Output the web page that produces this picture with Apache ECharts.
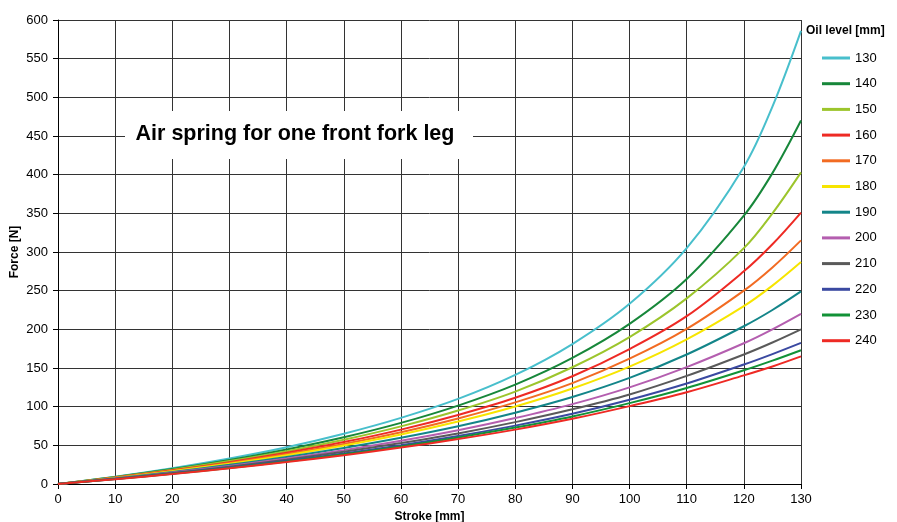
<!DOCTYPE html>
<html>
<head>
<meta charset="utf-8">
<script src="https://cdn.jsdelivr.net/npm/echarts@6/dist/echarts.min.js"></script>
<style>
html,body{margin:0;padding:0;background:#fff;}
#chart{width:897px;height:522px;}
</style>
</head>
<body>
<div id="chart"></div>
<script>
// Stroke positions [mm]
var stroke = [0, 10, 20, 30, 40, 50, 60, 70, 80, 90, 100, 110, 120, 125, 130];
// Oil levels [mm] (legend labels)
var oilLevels = ['130', '140', '150', '160', '170', '180', '190', '200', '210', '220', '230', '240'];
// Force [N] per oil level
var f130 = [0, 9.5, 20.5, 33, 47.5, 65, 85.5, 110, 141, 181, 233, 305, 410, 488, 586];
var f140 = [0, 9.1, 19.3, 31, 44.6, 60.4, 79, 101.4, 128.5, 163, 207, 265, 347, 402, 470];
var f150 = [0, 8.7, 18.5, 29.6, 42.4, 57.2, 74.5, 95, 119.5, 151, 190, 240, 305, 350, 403];
var f160 = [0, 8.3, 17.7, 28.3, 40.4, 54.2, 70.3, 89.3, 111.5, 139.3, 174.5, 217, 275, 310, 351];
var f170 = [0, 8.1, 17.1, 27.2, 38.7, 51.8, 67, 84.8, 105.6, 130.5, 162, 200.5, 250, 280, 315];
var f180 = [0, 7.8, 16.5, 26.3, 37.3, 49.8, 64.1, 80.8, 100.2, 123.5, 151.8, 187, 230, 256.5, 287];
var f190 = [0, 7.4, 15.6, 24.8, 35, 46.6, 59.7, 74.6, 92.2, 112.5, 137.2, 167.5, 204, 225, 249];
var f200 = [0, 7, 14.8, 23.4, 33, 43.8, 55.9, 69.5, 85.3, 103.3, 125, 151.2, 182, 200, 220];
var f210 = [0, 6.8, 14.2, 22.4, 31.5, 41.6, 53, 65.4, 80, 96.6, 115.8, 139.8, 167.5, 183, 200];
var f220 = [0, 6.5, 13.6, 21.4, 30, 39.6, 50.2, 62.1, 75.5, 90.8, 109, 130, 154.5, 168, 182.5];
var f230 = [0, 6.3, 13.2, 20.8, 29.2, 38.4, 48.6, 60.2, 73, 87.4, 104.6, 124.2, 147, 159.5, 173];
var f240 = [0, 6.2, 12.9, 20.3, 28.4, 37.3, 47.2, 58.1, 70.3, 84.3, 100.7, 118.7, 140.5, 152, 165];
var forces = [f130, f140, f150, f160, f170, f180, f190, f200, f210, f220, f230, f240];
var colors = ['#48BFCC', '#17873A', '#9CC52C', '#EE2A24', '#F26B22', '#F7E500', '#138589', '#B45EAF', '#5A5A5A', '#3A49A1', '#129237', '#EE2A24'];
// Axis ticks
var xTicks = {min: 0, max: 130, interval: 10};
var yTicks = {min: 0, max: 600, interval: 50};

var FONT = '"Liberation Sans", Arial, Helvetica, sans-serif';

var series = oilLevels.map(function (name, i) {
  return {
    name: name,
    type: 'line',
    smooth: 0.35,
    symbol: 'none',
    showSymbol: false,
    z: 3,
    lineStyle: {color: colors[i], width: 2},
    itemStyle: {color: colors[i]},
    data: stroke.map(function (x, j) { return [x, forces[i][j]]; })
  };
});

var chart = echarts.init(document.getElementById('chart'), null, {renderer: 'canvas'});
chart.setOption({
  animation: false,
  backgroundColor: '#fff',
  textStyle: {fontFamily: FONT},
  grid: {left: 58, right: 96, top: 20, bottom: 38, containLabel: false, outerBoundsMode: 'none'},
  xAxis: {
    type: 'value',
    min: xTicks.min, max: xTicks.max, interval: xTicks.interval,
    name: 'Stroke [mm]',
    nameLocation: 'middle',
    nameGap: 27,
    nameTextStyle: {fontFamily: FONT, fontWeight: 'bold', fontSize: 12, color: '#000'},
    axisLine: {lineStyle: {color: '#000', width: 1}},
    axisTick: {show: true, length: 5, lineStyle: {color: '#000'}},
    axisLabel: {fontFamily: FONT, fontSize: 13, color: '#000', margin: 9},
    splitLine: {show: true, lineStyle: {color: '#333', width: 1}}
  },
  yAxis: {
    type: 'value',
    min: yTicks.min, max: yTicks.max, interval: yTicks.interval,
    axisLine: {show: true, lineStyle: {color: '#000', width: 1}},
    axisTick: {show: true, length: 5, lineStyle: {color: '#000'}},
    axisLabel: {fontFamily: FONT, fontSize: 13, color: '#000', margin: 10},
    splitLine: {show: true, lineStyle: {color: '#333', width: 1}}
  },
  legend: {
    orient: 'vertical',
    left: 822,
    top: 50,
    padding: 0,
    itemWidth: 28,
    itemHeight: 3,
    itemGap: 9.7,
    icon: 'rect',
    data: oilLevels,
    textStyle: {fontFamily: FONT, fontSize: 13, color: '#000', lineHeight: 16}
  },
  graphic: [
    {
      type: 'text',
      x: 15, y: 252,
      rotation: Math.PI / 2,
      style: {text: 'Force [N]', font: 'bold 12px ' + FONT, fill: '#000', align: 'center', verticalAlign: 'middle'}
    },
    {
      type: 'text',
      left: 806, top: 25,
      style: {text: 'Oil level [mm]', font: 'bold 12px ' + FONT, fill: '#000'}
    },
    {
      type: 'rect',
      z: 100,
      shape: {x: 125, y: 111, width: 348, height: 48},
      style: {fill: '#fff'}
    },
    {
      type: 'text',
      z: 101,
      x: 295, y: 134,
      style: {text: 'Air spring for one front fork leg', font: 'bold 21.5px ' + FONT, fill: '#000', align: 'center', verticalAlign: 'middle'}
    }
  ],
  series: series
});
</script>
</body>
</html>
